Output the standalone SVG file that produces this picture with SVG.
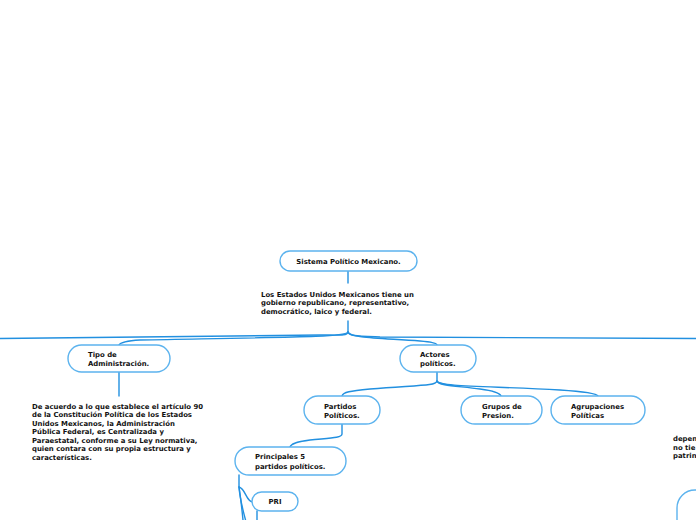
<svg xmlns="http://www.w3.org/2000/svg" width="696" height="520" viewBox="0 0 696 520">
<style>
.n{fill:#fff;stroke:#5cb3ee;stroke-width:1.4}
.c{fill:none;stroke:#2290e0;stroke-width:1.4;stroke-linecap:round}
.t{font-family:"DejaVu Sans",Verdana,sans-serif;font-weight:bold;font-size:6.9px;fill:#111}
</style>
<rect width="696" height="520" fill="#fff"/>
<g id="connectors">
<path class="c" d="M348 271 L348 283"/>
<path class="c" d="M348 321 L348 332 C347 336 340 335 320 335 L0 338.5" stroke-width="1.8"/>
<path class="c" d="M348 332 C349 336 356 336 380 337 L696 338.5" stroke-width="1.8"/>
<path class="c" d="M348 332 C346 337 300 337 140 340 C125 341 120 343 119 345"/>
<path class="c" d="M348 332 C350 338 380 338 420 341 C432 342 437 343 437 345"/>
<path class="c" d="M119 372 L119 396"/>
<path class="c" d="M437 372 L437 381 C436 386 420 385 370 389 C350 391 343 392 342 396"/>
<path class="c" d="M437 381 C438 386 460 386 480 389 C495 391 500 393 501 396"/>
<path class="c" d="M437 381 C439 387 490 386 560 390 C590 392 597 394 598 396"/>
<path class="c" d="M342 424 L342 434 C342 438 330 438 310 440 C295 442 291 444 290 447"/>
<path class="c" d="M239 475 L239 487 C241 500 242 510 243 520" stroke-width="2"/>
<path class="c" d="M239 487 C240 500 243 510 245.5 520" stroke-width="1.6"/>
<path class="c" d="M239 487 C246 489 246 502 253 502"/>
<path class="c" d="M257 511 L257 520"/>
</g>
<g id="root">
<rect class="n" x="280" y="251" width="137" height="20" rx="10"/>
<text class="t" x="348.5" y="263.5" text-anchor="middle">Sistema Político Mexicano.</text>
</g>
<g id="desc">
<text class="t" x="261" y="296.5">Los Estados Unidos Mexicanos tiene un</text>
<text class="t" x="261" y="305">gobierno republicano, representativo,</text>
<text class="t" x="261" y="313.5">democrático, laico y federal.</text>
</g>
<g id="tipo">
<rect class="n" x="68" y="345" width="102" height="27" rx="13.5"/>
<text class="t" x="88" y="357">Tipo de</text>
<text class="t" x="88" y="366">Administración.</text>
</g>
<g id="tipo-desc">
<text class="t" x="32" y="408.5">De acuerdo a lo que establece el artículo 90</text>
<text class="t" x="32" y="417">de la Constitución Política de los Estados</text>
<text class="t" x="32" y="425.5">Unidos Mexicanos, la Administración</text>
<text class="t" x="32" y="434">Pública Federal, es Centralizada y</text>
<text class="t" x="32" y="442.5">Paraestatal, conforme a su Ley normativa,</text>
<text class="t" x="32" y="451">quien contara con su propia estructura y</text>
<text class="t" x="32" y="459.5">características.</text>
</g>
<g id="actores">
<rect class="n" x="400" y="345" width="76" height="27" rx="13.5"/>
<text class="t" x="420" y="357">Actores</text>
<text class="t" x="420" y="366">políticos.</text>
</g>
<g id="partidos">
<rect class="n" x="304" y="396" width="76" height="28" rx="14"/>
<text class="t" x="324" y="409">Partidos</text>
<text class="t" x="324" y="418">Políticos.</text>
</g>
<g id="grupos">
<rect class="n" x="461" y="396" width="81" height="28" rx="14"/>
<text class="t" x="482" y="409">Grupos de</text>
<text class="t" x="482" y="418">Presion.</text>
</g>
<g id="agrupaciones">
<rect class="n" x="551" y="396" width="94" height="28" rx="14"/>
<text class="t" x="571" y="409">Agrupaciones</text>
<text class="t" x="571" y="418">Políticas</text>
</g>
<g id="principales">
<rect class="n" x="235" y="447" width="111" height="28" rx="14"/>
<text class="t" x="255" y="459">Principales 5</text>
<text class="t" x="255" y="468.5">partidos políticos.</text>
</g>
<g id="pri">
<rect class="n" x="252" y="492" width="46" height="19" rx="9.5"/>
<text class="t" x="275" y="504" text-anchor="middle">PRI</text>
</g>
<g id="right-text">
<text class="t" x="673" y="441">depen</text>
<text class="t" x="673" y="449.5">no tie</text>
<text class="t" x="673" y="458">patrin</text>
</g>
<g id="right-node">
<rect class="n" x="677" y="490" width="60" height="50" rx="18"/>
</g>
</svg>
